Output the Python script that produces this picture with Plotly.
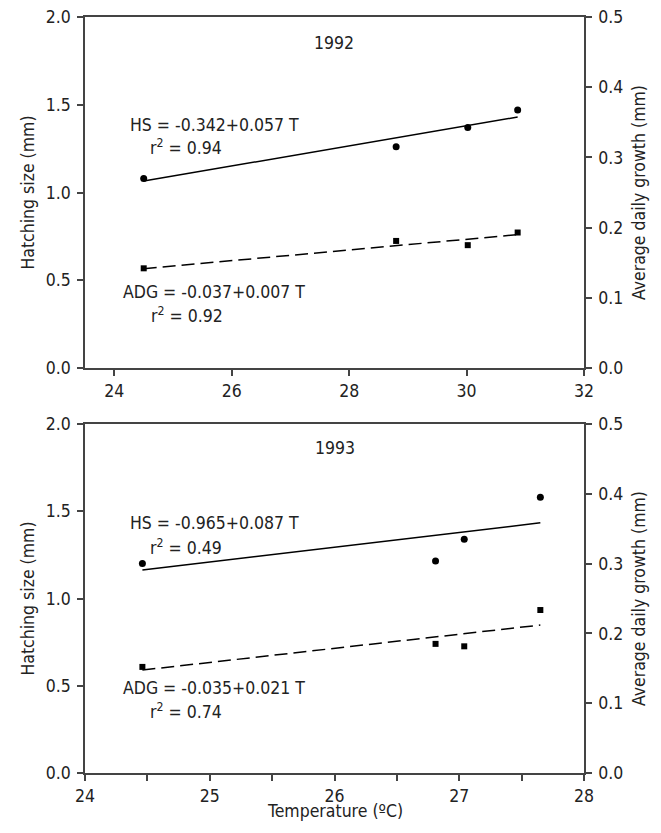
import plotly.graph_objects as go

# 1992 data (temperature, hatching size, average daily growth)
t92 = [24.5, 28.8, 30.02, 30.87]
hs92 = [1.08, 1.26, 1.37, 1.47]
adg92 = [0.142, 0.181, 0.175, 0.193]
hs92_fit_x = [24.5, 30.87]
hs92_fit_y = [1.065, 1.43]
adg92_fit_x = [24.5, 30.87]
adg92_fit_y = [0.1415, 0.19]

# 1993 data
t93 = [24.46, 26.81, 27.04, 27.65]
hs93 = [1.20, 1.215, 1.34, 1.58]
adg93 = [0.152, 0.185, 0.1815, 0.2335]
hs93_fit_x = [24.46, 27.65]
hs93_fit_y = [1.163, 1.434]
adg93_fit_x = [24.46, 27.65]
adg93_fit_y = [0.1475, 0.212]

FONT = "Liberation Sans Narrow, Arial Narrow, DejaVu Sans Condensed, sans-serif"
INK = "#222222"
AX = "#444444"
FS = 17.5

fig = go.Figure()

def add_year(t, hs, adg, hx, hy, ax_, ay_, xa, ya, ya2):
    fig.add_trace(go.Scatter(x=hx, y=hy, mode="lines", line=dict(color="black", width=1.5),
                             xaxis=xa, yaxis=ya, showlegend=False))
    fig.add_trace(go.Scatter(x=t, y=hs, mode="markers", marker=dict(symbol="circle", size=7, color="black"),
                             xaxis=xa, yaxis=ya, showlegend=False))
    fig.add_trace(go.Scatter(x=ax_, y=ay_, mode="lines", line=dict(color="black", width=1.5, dash="13px,6px"),
                             xaxis=xa, yaxis=ya2, showlegend=False))
    fig.add_trace(go.Scatter(x=t, y=adg, mode="markers", marker=dict(symbol="square", size=6, color="black"),
                             xaxis=xa, yaxis=ya2, showlegend=False))

add_year(t92, hs92, adg92, hs92_fit_x, hs92_fit_y, adg92_fit_x, adg92_fit_y, "x", "y", "y2")
add_year(t93, hs93, adg93, hs93_fit_x, hs93_fit_y, adg93_fit_x, adg93_fit_y, "x2", "y3", "y4")

axis_common = dict(showline=True, linecolor=AX, linewidth=1.5, ticks="outside", ticklen=6,
                   tickcolor=AX, tickwidth=1.5, showgrid=False, zeroline=False,
                   automargin=False, ticklabeloverflow="allow",
                   tickfont=dict(family=FONT, size=FS, color=INK),
                   title_font=dict(family=FONT, size=FS, color=INK))

top_dom = [0.5357, 1.0]
bot_dom = [0.0, 0.4616]

# page body has an 8px margin all round, so the figure is 16px smaller than the window
fig.update_layout(
    width=645, height=817,
    margin=dict(l=77, r=69, t=9, b=52),
    plot_bgcolor="white", paper_bgcolor="white",
    font=dict(family=FONT, size=FS, color=INK),
    xaxis=dict(axis_common, domain=[0, 1], anchor="y", range=[23.5, 32], dtick=2, tick0=24, mirror=True,
               ticklabelstandoff=0),
    yaxis=dict(axis_common, domain=top_dom, anchor="x", range=[0, 2.0], dtick=0.5, tickformat=".1f",
               ticklabelstandoff=3, title=dict(text="Hatching size (mm)", standoff=7)),
    yaxis2=dict(axis_common, overlaying="y", side="right", anchor="x", range=[0, 0.5], dtick=0.1,
                tickformat=".1f", ticklabelstandoff=3,
                title=dict(text="Average daily growth (mm)", standoff=10)),
    xaxis2=dict(axis_common, domain=[0, 1], anchor="y3", range=[24, 28], dtick=1, mirror=True,
                ticklabelstandoff=0,
                minor=dict(dtick=0.5, ticks="outside", ticklen=6, tickcolor=AX, tickwidth=1.5)),
    yaxis3=dict(axis_common, domain=bot_dom, anchor="x2", range=[0, 2.0], dtick=0.5, tickformat=".1f",
                ticklabelstandoff=3, title=dict(text="Hatching size (mm)", standoff=7)),
    yaxis4=dict(axis_common, overlaying="y3", side="right", anchor="x2", range=[0, 0.5], dtick=0.1,
                tickformat=".1f", ticklabelstandoff=3,
                title=dict(text="Average daily growth (mm)", standoff=10)),
)

def note(text, x, y, xref, yref, xanchor="left", yanchor="middle"):
    fig.add_annotation(text=text, x=x, y=y, xref=xref, yref=yref, xanchor=xanchor, yanchor=yanchor,
                       showarrow=False, font=dict(family=FONT, size=FS, color=INK))

note("1992", 27.74, 1.852, "x", "y", "center")
note("HS = -0.342+0.057 T", 24.23, 1.385, "x", "y")
note("r<sup>2</sup> = 0.94", 24.57, 1.26, "x", "y")
note("ADG = -0.037+0.007 T", 24.11, 0.433, "x", "y")
note("r<sup>2</sup> = 0.92", 24.59, 0.302, "x", "y")

note("1993", 26.0, 1.862, "x2", "y3", "center")
note("HS = -0.965+0.087 T", 24.345, 1.433, "x2", "y3")
note("r<sup>2</sup> = 0.49", 24.505, 1.295, "x2", "y3")
note("ADG = -0.035+0.021 T", 24.29, 0.487, "x2", "y3")
note("r<sup>2</sup> = 0.74", 24.505, 0.355, "x2", "y3")

# shared x-axis title under the lower panel
note("Temperature (ºC)", 0.5, -0.0665, "paper", "paper", "center", "bottom")

fig.write_html("out.html")
